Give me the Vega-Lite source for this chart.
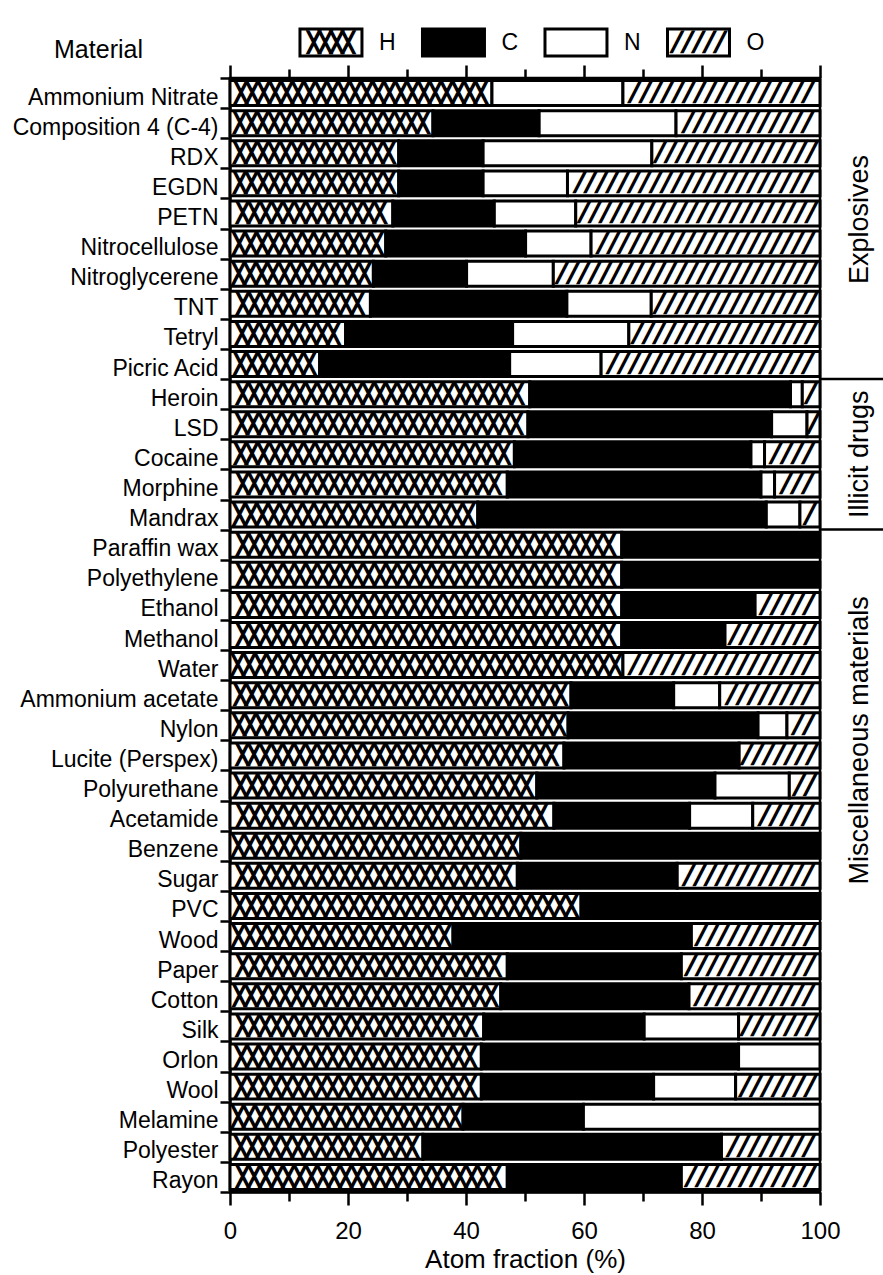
{
  "$schema": "https://vega.github.io/schema/vega-lite/v6.json",
  "background": "white",
  "padding": {"left": 10, "top": 27, "right": 0, "bottom": 5},
  "autosize": {"type": "pad"},
  "bounds": "flush",
  "spacing": 22,
  "datasets": {
    "comp": [
      {"material": "Ammonium Nitrate", "H": 44.4, "C": 0, "N": 22.2, "O": 33.4},
      {"material": "Composition 4 (C-4)", "H": 34.4, "C": 18.0, "N": 23.2, "O": 24.4},
      {"material": "RDX", "H": 28.6, "C": 14.3, "N": 28.6, "O": 28.5},
      {"material": "EGDN", "H": 28.6, "C": 14.3, "N": 14.3, "O": 42.8},
      {"material": "PETN", "H": 27.6, "C": 17.2, "N": 13.8, "O": 41.4},
      {"material": "Nitrocellulose", "H": 26.4, "C": 23.7, "N": 11.1, "O": 38.8},
      {"material": "Nitroglycerene", "H": 24.3, "C": 15.8, "N": 14.7, "O": 45.2},
      {"material": "TNT", "H": 23.8, "C": 33.3, "N": 14.3, "O": 28.6},
      {"material": "Tetryl", "H": 19.6, "C": 28.3, "N": 19.7, "O": 32.4},
      {"material": "Picric Acid", "H": 15.2, "C": 32.2, "N": 15.5, "O": 37.1},
      {"material": "Heroin", "H": 50.8, "C": 44.2, "N": 2.0, "O": 3.0},
      {"material": "LSD", "H": 50.5, "C": 41.3, "N": 6.0, "O": 2.2},
      {"material": "Cocaine", "H": 48.2, "C": 40.1, "N": 2.3, "O": 9.4},
      {"material": "Morphine", "H": 47.0, "C": 43.0, "N": 2.3, "O": 7.7},
      {"material": "Mandrax", "H": 42.0, "C": 48.9, "N": 5.7, "O": 3.4},
      {"material": "Paraffin wax", "H": 66.4, "C": 33.6, "N": 0, "O": 0},
      {"material": "Polyethylene", "H": 66.4, "C": 33.6, "N": 0, "O": 0},
      {"material": "Ethanol", "H": 66.4, "C": 22.6, "N": 0, "O": 11.0},
      {"material": "Methanol", "H": 66.4, "C": 17.5, "N": 0, "O": 16.1},
      {"material": "Water", "H": 66.6, "C": 0, "N": 0, "O": 33.4},
      {"material": "Ammonium acetate", "H": 57.8, "C": 17.4, "N": 7.8, "O": 17.0},
      {"material": "Nylon", "H": 57.3, "C": 32.2, "N": 4.9, "O": 5.6},
      {"material": "Lucite (Perspex)", "H": 56.6, "C": 29.7, "N": 0, "O": 13.7},
      {"material": "Polyurethane", "H": 52.0, "C": 30.2, "N": 12.6, "O": 5.2},
      {"material": "Acetamide", "H": 54.9, "C": 23.0, "N": 10.7, "O": 11.4},
      {"material": "Benzene", "H": 49.3, "C": 50.7, "N": 0, "O": 0},
      {"material": "Sugar", "H": 48.7, "C": 27.1, "N": 0, "O": 24.2},
      {"material": "PVC", "H": 59.5, "C": 40.5, "N": 0, "O": 0},
      {"material": "Wood", "H": 37.8, "C": 40.4, "N": 0, "O": 21.8},
      {"material": "Paper", "H": 47.0, "C": 29.5, "N": 0, "O": 23.5},
      {"material": "Cotton", "H": 45.9, "C": 31.9, "N": 0, "O": 22.2},
      {"material": "Silk", "H": 43.0, "C": 27.2, "N": 16.0, "O": 13.8},
      {"material": "Orlon", "H": 42.6, "C": 43.6, "N": 13.8, "O": 0},
      {"material": "Wool", "H": 42.6, "C": 29.2, "N": 13.9, "O": 14.3},
      {"material": "Melamine", "H": 39.5, "C": 20.4, "N": 40.1, "O": 0},
      {"material": "Polyester", "H": 32.7, "C": 50.6, "N": 0, "O": 16.7},
      {"material": "Rayon", "H": 47.0, "C": 29.5, "N": 0, "O": 23.5}
    ],
    "elements": [{"element": "H"}, {"element": "C"}, {"element": "N"}, {"element": "O"}],
    "groups": [
      {"material": "PETN", "group": "Explosives"},
      {"material": "Cocaine", "group": "Illicit drugs"},
      {"material": "Nylon", "group": "Miscellaneous  materials"}
    ],
    "seps": [{"material": "Heroin"}, {"material": "Paraffin wax"}]
  },
  "vconcat": [
    {
      "width": 590,
      "height": 27,
      "view": {"stroke": null},
      "data": {"name": "elements"},
      "encoding": {
        "x": {"field": "element", "type": "nominal", "sort": ["H", "C", "N", "O"], "scale": {"type": "band", "paddingInner": 0.494, "paddingOuter": 0.655, "align": 0.436}, "axis": null}
      },
      "layer": [
        {
          "mark": {"type": "bar", "stroke": "black", "strokeWidth": 3},
          "encoding": {"fill": {"field": "element", "type": "nominal", "scale": {"domain": ["H", "C", "N", "O"], "range": ["white", "black", "white", "white"]}, "legend": null}}
        },
        {
          "transform": [{"filter": "datum.element === 'H'"}],
          "mark": {"type": "text", "text": "╳╳╳╳╳╳╳╳╳╳╳╳╳╳╳╳╳╳╳╳", "font": "DejaVu Sans Mono", "fontSize": 19, "fill": "black", "stroke": "black", "strokeWidth": 1.9, "limit": 57, "ellipsis": "╳", "align": "center", "baseline": "middle"}
        },
        {
          "transform": [{"filter": "datum.element === 'O'"}],
          "mark": {"type": "text", "text": "╱╱╱╱╱╱╱╱╱╱╱╱╱╱╱╱╱╱╱╱", "font": "DejaVu Sans Mono", "fontSize": 18, "fill": "black", "stroke": "black", "strokeWidth": 1.8, "limit": 57, "ellipsis": "╱", "align": "center", "baseline": "middle"}
        },
        {
          "mark": {"type": "text", "align": "left", "baseline": "middle", "xOffset": 48, "font": "Liberation Sans", "fontSize": 23, "fill": "black"},
          "encoding": {"text": {"field": "element"}}
        }
      ]
    },
    {
      "width": 590,
      "height": 1114,
      "view": {"stroke": "black", "strokeWidth": 2.5},
      "resolve": {"axis": {"x": "independent"}},
      "layer": [
        {
          "data": {"name": "comp"},
          "transform": [
            {"fold": ["H", "C", "N", "O"], "as": ["element", "pct"]},
            {"filter": "datum.pct > 0"},
            {"calculate": "indexof(['H','C','N','O'], datum.element)", "as": "eorder"},
            {"stack": "pct", "groupby": ["material"], "sort": [{"field": "eorder", "order": "ascending"}], "as": ["s0", "s1"]}
          ],
          "mark": {"type": "bar", "height": {"band": 0.83}, "stroke": "black", "strokeWidth": 3},
          "encoding": {
            "x": {"field": "s0", "type": "quantitative", "scale": {"domain": [0, 100], "nice": false},
              "axis": {"orient": "bottom", "values": [0, 10, 20, 30, 40, 50, 60, 70, 80, 90, 100], "labelExpr": "datum.value % 20 === 0 ? datum.label : ''", "tickSize": {"condition": {"test": "datum.value % 20 === 0", "value": 13}, "value": 9}, "labelPadding": 14, "labelFontSize": 24, "labelFlush": false, "labelOverlap": false, "title": "Atom fraction (%)", "titleFontSize": 26, "titlePadding": 3}},
            "x2": {"field": "s1"},
            "y": {"field": "material", "type": "nominal",
              "scale": {"domain": ["Ammonium Nitrate", "Composition 4 (C-4)", "RDX", "EGDN", "PETN", "Nitrocellulose", "Nitroglycerene", "TNT", "Tetryl", "Picric Acid", "Heroin", "LSD", "Cocaine", "Morphine", "Mandrax", "Paraffin wax", "Polyethylene", "Ethanol", "Methanol", "Water", "Ammonium acetate", "Nylon", "Lucite (Perspex)", "Polyurethane", "Acetamide", "Benzene", "Sugar", "PVC", "Wood", "Paper", "Cotton", "Silk", "Orlon", "Wool", "Melamine", "Polyester", "Rayon"], "paddingInner": 0, "paddingOuter": 0},
              "axis": {"title": "Material", "titleFontSize": 25, "titleAngle": 0, "titleAlign": "center", "titleBaseline": "middle", "titleX": -132, "titleY": -29, "tickBand": "extent", "tickSize": 10, "tickWidth": 2.5, "labelPadding": 2, "labelOffset": 4, "labelFontSize": 23, "labelLimit": 400}},
            "fill": {"field": "element", "type": "nominal", "scale": {"domain": ["H", "C", "N", "O"], "range": ["white", "black", "white", "white"]}, "legend": null}
          }
        },
        {
          "data": {"name": "comp"},
          "transform": [
            {"fold": ["H", "C", "N", "O"], "as": ["element", "pct"]},
            {"filter": "datum.pct > 0"},
            {"calculate": "indexof(['H','C','N','O'], datum.element)", "as": "eorder"},
            {"stack": "pct", "groupby": ["material"], "sort": [{"field": "eorder", "order": "ascending"}], "as": ["s0", "s1"]},
            {"filter": "datum.element === 'H'"},
            {"calculate": "(datum.s0 + datum.s1) / 2", "as": "mid"}
          ],
          "mark": {"type": "text", "text": "╳╳╳╳╳╳╳╳╳╳╳╳╳╳╳╳╳╳╳╳╳╳╳╳╳╳╳╳╳╳╳╳╳╳╳╳╳╳╳╳╳╳╳╳╳╳╳╳╳╳", "font": "DejaVu Sans Mono", "fontSize": 19, "fill": "black", "stroke": "black", "strokeWidth": 1.9, "ellipsis": "╳", "align": "center", "baseline": "middle", "limit": {"expr": "(datum.s1 - datum.s0) * 5.9 - 4"}},
          "encoding": {
            "x": {"field": "mid", "type": "quantitative", "scale": {"domain": [0, 100], "nice": false},
              "axis": {"orient": "top", "values": [0, 10, 20, 30, 40, 50, 60, 70, 80, 90, 100], "labels": false, "title": null, "tickSize": {"condition": {"test": "datum.value % 20 === 0", "value": 13}, "value": 9}}},
            "y": {"field": "material", "type": "nominal",
              "scale": {"domain": ["Ammonium Nitrate", "Composition 4 (C-4)", "RDX", "EGDN", "PETN", "Nitrocellulose", "Nitroglycerene", "TNT", "Tetryl", "Picric Acid", "Heroin", "LSD", "Cocaine", "Morphine", "Mandrax", "Paraffin wax", "Polyethylene", "Ethanol", "Methanol", "Water", "Ammonium acetate", "Nylon", "Lucite (Perspex)", "Polyurethane", "Acetamide", "Benzene", "Sugar", "PVC", "Wood", "Paper", "Cotton", "Silk", "Orlon", "Wool", "Melamine", "Polyester", "Rayon"], "paddingInner": 0, "paddingOuter": 0},
              "axis": {"title": "Material", "titleFontSize": 25, "titleAngle": 0, "titleAlign": "center", "titleBaseline": "middle", "titleX": -132, "titleY": -29, "tickBand": "extent", "tickSize": 10, "tickWidth": 2.5, "labelPadding": 2, "labelOffset": 4, "labelFontSize": 23, "labelLimit": 400}}
          }
        },
        {
          "data": {"name": "comp"},
          "transform": [
            {"fold": ["H", "C", "N", "O"], "as": ["element", "pct"]},
            {"filter": "datum.pct > 0"},
            {"calculate": "indexof(['H','C','N','O'], datum.element)", "as": "eorder"},
            {"stack": "pct", "groupby": ["material"], "sort": [{"field": "eorder", "order": "ascending"}], "as": ["s0", "s1"]},
            {"filter": "datum.element === 'O'"},
            {"calculate": "(datum.s0 + datum.s1) / 2", "as": "mid"}
          ],
          "mark": {"type": "text", "text": "╱╱╱╱╱╱╱╱╱╱╱╱╱╱╱╱╱╱╱╱╱╱╱╱╱╱╱╱╱╱╱╱╱╱╱╱╱╱╱╱", "font": "DejaVu Sans Mono", "fontSize": 18, "fill": "black", "stroke": "black", "strokeWidth": 1.8, "ellipsis": "╱", "align": "center", "baseline": "middle", "limit": {"expr": "(datum.s1 - datum.s0) * 5.9 - 4"}},
          "encoding": {
            "x": {"field": "mid", "type": "quantitative", "scale": {"domain": [0, 100], "nice": false}, "axis": null},
            "y": {"field": "material", "type": "nominal",
              "scale": {"domain": ["Ammonium Nitrate", "Composition 4 (C-4)", "RDX", "EGDN", "PETN", "Nitrocellulose", "Nitroglycerene", "TNT", "Tetryl", "Picric Acid", "Heroin", "LSD", "Cocaine", "Morphine", "Mandrax", "Paraffin wax", "Polyethylene", "Ethanol", "Methanol", "Water", "Ammonium acetate", "Nylon", "Lucite (Perspex)", "Polyurethane", "Acetamide", "Benzene", "Sugar", "PVC", "Wood", "Paper", "Cotton", "Silk", "Orlon", "Wool", "Melamine", "Polyester", "Rayon"], "paddingInner": 0, "paddingOuter": 0},
              "axis": {"title": "Material", "titleFontSize": 25, "titleAngle": 0, "titleAlign": "center", "titleBaseline": "middle", "titleX": -132, "titleY": -29, "tickBand": "extent", "tickSize": 10, "tickWidth": 2.5, "labelPadding": 2, "labelOffset": 4, "labelFontSize": 23, "labelLimit": 400}}
          }
        },
        {
          "data": {"name": "groups"},
          "transform": [{"filter": "datum.group === 'Explosives'"}],
          "mark": {"type": "text", "angle": 270, "align": "center", "baseline": "middle", "xOffset": 40, "font": "Liberation Sans", "fontSize": 27, "fill": "black"},
          "encoding": {
            "x": {"datum": 100, "type": "quantitative", "axis": null},
            "y": {"field": "material", "type": "nominal", "bandPosition": 0.7,
              "scale": {"domain": ["Ammonium Nitrate", "Composition 4 (C-4)", "RDX", "EGDN", "PETN", "Nitrocellulose", "Nitroglycerene", "TNT", "Tetryl", "Picric Acid", "Heroin", "LSD", "Cocaine", "Morphine", "Mandrax", "Paraffin wax", "Polyethylene", "Ethanol", "Methanol", "Water", "Ammonium acetate", "Nylon", "Lucite (Perspex)", "Polyurethane", "Acetamide", "Benzene", "Sugar", "PVC", "Wood", "Paper", "Cotton", "Silk", "Orlon", "Wool", "Melamine", "Polyester", "Rayon"], "paddingInner": 0, "paddingOuter": 0},
              "axis": {"title": "Material", "titleFontSize": 25, "titleAngle": 0, "titleAlign": "center", "titleBaseline": "middle", "titleX": -132, "titleY": -29, "tickBand": "extent", "tickSize": 10, "tickWidth": 2.5, "labelPadding": 2, "labelOffset": 4, "labelFontSize": 23, "labelLimit": 400}},
            "text": {"field": "group"}
          }
        },
        {
          "data": {"name": "groups"},
          "transform": [{"filter": "datum.group === 'Illicit drugs'"}],
          "mark": {"type": "text", "angle": 270, "align": "center", "baseline": "middle", "xOffset": 40, "font": "Liberation Sans", "fontSize": 27, "fill": "black"},
          "encoding": {
            "x": {"datum": 100, "type": "quantitative", "axis": null},
            "y": {"field": "material", "type": "nominal", "bandPosition": 0.5,
              "scale": {"domain": ["Ammonium Nitrate", "Composition 4 (C-4)", "RDX", "EGDN", "PETN", "Nitrocellulose", "Nitroglycerene", "TNT", "Tetryl", "Picric Acid", "Heroin", "LSD", "Cocaine", "Morphine", "Mandrax", "Paraffin wax", "Polyethylene", "Ethanol", "Methanol", "Water", "Ammonium acetate", "Nylon", "Lucite (Perspex)", "Polyurethane", "Acetamide", "Benzene", "Sugar", "PVC", "Wood", "Paper", "Cotton", "Silk", "Orlon", "Wool", "Melamine", "Polyester", "Rayon"], "paddingInner": 0, "paddingOuter": 0},
              "axis": {"title": "Material", "titleFontSize": 25, "titleAngle": 0, "titleAlign": "center", "titleBaseline": "middle", "titleX": -132, "titleY": -29, "tickBand": "extent", "tickSize": 10, "tickWidth": 2.5, "labelPadding": 2, "labelOffset": 4, "labelFontSize": 23, "labelLimit": 400}},
            "text": {"field": "group"}
          }
        },
        {
          "data": {"name": "groups"},
          "transform": [{"filter": "datum.group !== 'Explosives' && datum.group !== 'Illicit drugs'"}],
          "mark": {"type": "text", "angle": 270, "align": "center", "baseline": "middle", "xOffset": 40, "font": "Liberation Sans", "fontSize": 27, "fill": "black"},
          "encoding": {
            "x": {"datum": 100, "type": "quantitative", "axis": null},
            "y": {"field": "material", "type": "nominal", "bandPosition": 1,
              "scale": {"domain": ["Ammonium Nitrate", "Composition 4 (C-4)", "RDX", "EGDN", "PETN", "Nitrocellulose", "Nitroglycerene", "TNT", "Tetryl", "Picric Acid", "Heroin", "LSD", "Cocaine", "Morphine", "Mandrax", "Paraffin wax", "Polyethylene", "Ethanol", "Methanol", "Water", "Ammonium acetate", "Nylon", "Lucite (Perspex)", "Polyurethane", "Acetamide", "Benzene", "Sugar", "PVC", "Wood", "Paper", "Cotton", "Silk", "Orlon", "Wool", "Melamine", "Polyester", "Rayon"], "paddingInner": 0, "paddingOuter": 0},
              "axis": {"title": "Material", "titleFontSize": 25, "titleAngle": 0, "titleAlign": "center", "titleBaseline": "middle", "titleX": -132, "titleY": -29, "tickBand": "extent", "tickSize": 10, "tickWidth": 2.5, "labelPadding": 2, "labelOffset": 4, "labelFontSize": 23, "labelLimit": 400}},
            "text": {"field": "group"}
          }
        },
        {
          "data": {"name": "seps"},
          "mark": {"type": "rule", "stroke": "black", "strokeWidth": 2.5},
          "encoding": {
            "x": {"datum": 100, "type": "quantitative", "axis": null},
            "x2": {"datum": 110.7},
            "y": {"field": "material", "type": "nominal", "bandPosition": 0,
              "scale": {"domain": ["Ammonium Nitrate", "Composition 4 (C-4)", "RDX", "EGDN", "PETN", "Nitrocellulose", "Nitroglycerene", "TNT", "Tetryl", "Picric Acid", "Heroin", "LSD", "Cocaine", "Morphine", "Mandrax", "Paraffin wax", "Polyethylene", "Ethanol", "Methanol", "Water", "Ammonium acetate", "Nylon", "Lucite (Perspex)", "Polyurethane", "Acetamide", "Benzene", "Sugar", "PVC", "Wood", "Paper", "Cotton", "Silk", "Orlon", "Wool", "Melamine", "Polyester", "Rayon"], "paddingInner": 0, "paddingOuter": 0},
              "axis": {"title": "Material", "titleFontSize": 25, "titleAngle": 0, "titleAlign": "center", "titleBaseline": "middle", "titleX": -132, "titleY": -29, "tickBand": "extent", "tickSize": 10, "tickWidth": 2.5, "labelPadding": 2, "labelOffset": 4, "labelFontSize": 23, "labelLimit": 400}}
          }
        }
      ]
    }
  ],
  "config": {
    "font": "Liberation Sans",
    "view": {"stroke": null},
    "axis": {"domainColor": "black", "domainWidth": 2.5, "tickColor": "black", "tickWidth": 2.5, "labelColor": "black", "labelFont": "Liberation Sans", "labelFontSize": 22, "titleFont": "Liberation Sans", "titleFontSize": 22, "titleFontWeight": "normal", "titleColor": "black", "grid": false}
  }
}
